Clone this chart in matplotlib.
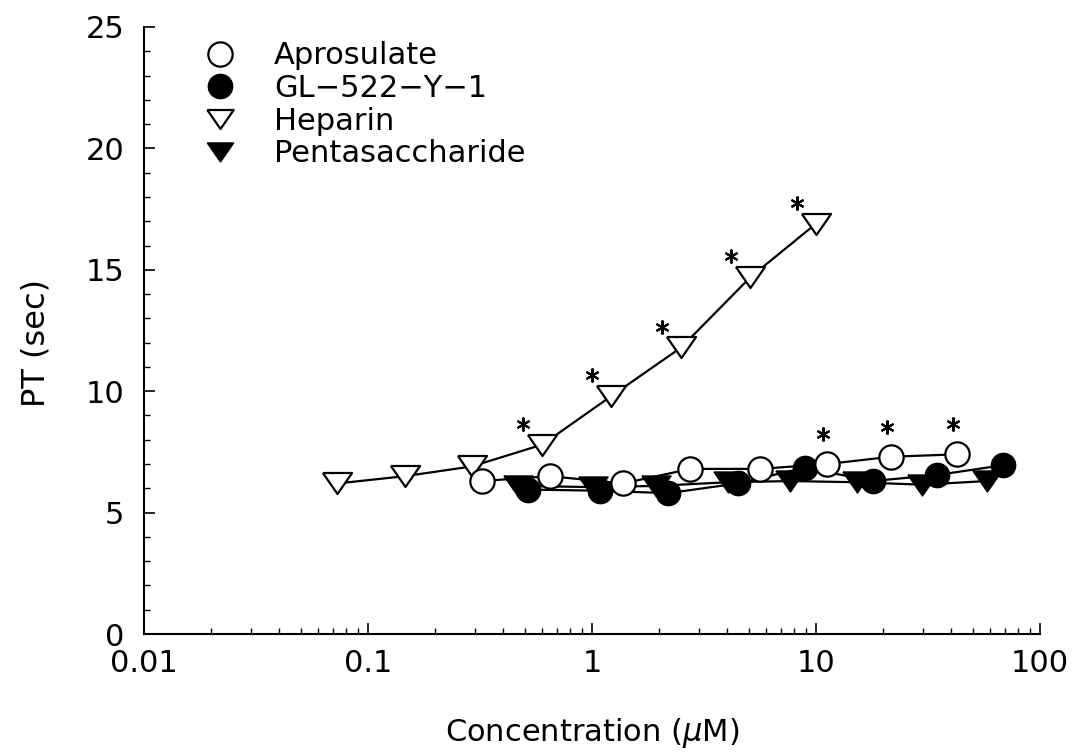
import matplotlib
matplotlib.use("Agg")
import matplotlib.pyplot as plt
from matplotlib.lines import Line2D
from matplotlib.ticker import FuncFormatter, MultipleLocator, LogLocator
import matplotlib.transforms as mtransforms

# 数据（浓度 uM / PT 秒）
apro_x = [0.324, 0.65, 1.37, 2.75, 5.6, 11.2, 21.6, 42.6]
apro_y = [6.3, 6.5, 6.2, 6.8, 6.8, 7.0, 7.3, 7.4]

gl_x = [0.52, 1.09, 2.19, 4.47, 8.9, 17.9, 34.8, 68.2]
gl_y = [5.95, 5.9, 5.8, 6.2, 6.85, 6.3, 6.55, 6.95]

hep_x = [0.073, 0.146, 0.29, 0.6, 1.22, 2.5, 5.1, 10.0]
hep_y = [6.2, 6.5, 6.9, 7.8, 9.8, 11.8, 14.7, 16.9]

penta_x = [0.467, 1.01, 1.93, 4.05, 7.66, 15.2, 29.7, 58.0]
penta_y = [6.1, 6.05, 6.1, 6.25, 6.3, 6.25, 6.15, 6.3]

# 有显著性差异的点（*）
hep_sig = [3, 4, 5, 6, 7]
apro_sig = [5, 6, 7]

labels = ["Aprosulate", "GL\u2212522\u2212Y\u22121", "Heparin", "Pentasaccharide"]

plt.rcParams['font.family'] = ['DejaVu Sans']
plt.rcParams['mathtext.fontset'] = 'dejavusans'

fig = plt.figure(figsize=(10.76, 7.54), dpi=100)
ax = fig.add_axes([144 / 1076, 1 - 634 / 754, (1040 - 144) / 1076, (634 - 27) / 754])

# 扁一点的倒三角
tri = [(-1, 0.72), (1, 0.72), (0, -0.72), (-1, 0.72)]
lw = 1.6

ax.plot(penta_x, penta_y, color='black', lw=lw, marker=tri, ms=21,
        mfc='black', mec='black', zorder=2)
ax.plot(gl_x, gl_y, color='black', lw=lw, marker='o', ms=17.5,
        mfc='black', mec='black', zorder=3)
ax.plot(hep_x, hep_y, color='black', lw=lw, marker=tri, ms=21,
        mfc='white', mec='black', mew=1.6, zorder=4)
ax.plot(apro_x, apro_y, color='black', lw=lw, marker='o', ms=17.5,
        mfc='white', mec='black', mew=1.6, zorder=5)

# 星号标记
star = (6, 2, 0)
hep_off = mtransforms.offset_copy(ax.transData, fig=fig, x=-14, y=15, units='points')
ax.plot([hep_x[i] for i in hep_sig], [hep_y[i] for i in hep_sig], ls='none',
        marker=star, ms=10, mew=1.5, color='black', transform=hep_off, zorder=6)
apro_off = mtransforms.offset_copy(ax.transData, fig=fig, x=-3, y=21.5, units='points')
ax.plot([apro_x[i] for i in apro_sig], [apro_y[i] for i in apro_sig], ls='none',
        marker=star, ms=10, mew=1.5, color='black', transform=apro_off, zorder=6)

# 坐标轴
ax.set_xscale('log')
ax.set_xlim(0.01, 100)
ax.set_ylim(0, 25)
ax.spines['top'].set_visible(False)
ax.spines['right'].set_visible(False)
ax.spines['left'].set_linewidth(1.5)
ax.spines['bottom'].set_linewidth(1.5)

ax.yaxis.set_major_locator(MultipleLocator(5))
ax.yaxis.set_minor_locator(MultipleLocator(1))
ax.xaxis.set_major_locator(LogLocator(base=10))
ax.xaxis.set_minor_locator(LogLocator(base=10, subs=range(2, 10)))
ax.xaxis.set_major_formatter(FuncFormatter(lambda v, p: f"{v:g}"))

ax.tick_params(which='major', direction='in', length=8, width=1.2, labelsize=22, pad=14)
ax.tick_params(which='minor', direction='in', length=4.5, width=1.0)
ax.tick_params(axis='x', which='major', pad=11)

ax.set_xlabel(r"Concentration ($\mu$M)", fontsize=22)
ax.set_ylabel("PT (sec)", fontsize=23)
ax.xaxis.set_label_coords(0.5, -0.135)
ax.yaxis.set_label_coords(-0.103, 0.48)

# 图例（只有符号）
handles = [
    Line2D([], [], ls='none', marker='o', ms=17.5, mfc='white', mec='black', mew=1.6),
    Line2D([], [], ls='none', marker='o', ms=17.5, mfc='black', mec='black'),
    Line2D([], [], ls='none', marker=tri, ms=19, mfc='white', mec='black', mew=1.6),
    Line2D([], [], ls='none', marker=tri, ms=19, mfc='black', mec='black'),
]
ax.legend(handles, labels, loc='upper left', bbox_to_anchor=(205 / 1076, 0.945),
          bbox_transform=fig.transFigure, frameon=False, fontsize=22,
          borderpad=0, borderaxespad=0, handlelength=1.0, handletextpad=1.25,
          labelspacing=0.12)

fig.savefig("out.png", dpi=100)
